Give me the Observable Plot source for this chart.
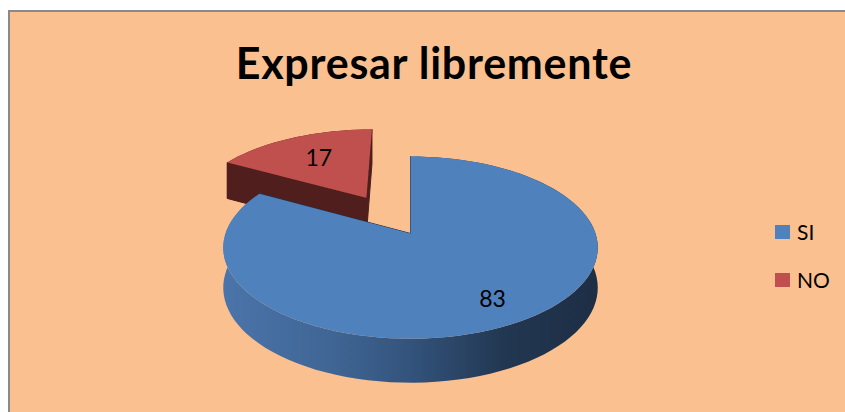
<!DOCTYPE html>
<html><head><meta charset="utf-8">
<script src="https://cdn.jsdelivr.net/npm/d3@7"></script>
<script src="https://cdn.jsdelivr.net/npm/@observablehq/plot@0.6"></script>
<style>
body{margin:0;background:#fff;}
#wrap{position:relative;width:845px;height:412px;overflow:hidden;background:#fff;font-family:Lato,"Open Sans",sans-serif;}
#panel{position:absolute;left:8px;top:10px;width:900px;height:500px;background:#FAC090;border-left:2px solid #8a8a8a;border-top:2px solid #8a8a8a;}
#title{position:absolute;left:0;width:868px;top:37px;text-align:center;font-weight:700;font-size:43px;line-height:1.2;color:#000;white-space:nowrap;letter-spacing:0.75px;}
#chart{position:absolute;left:0;top:0;}
.leg{position:absolute;left:775px;font-size:21px;line-height:1.2;color:#000;white-space:nowrap;}
.leg .sw{position:absolute;left:0;width:15px;height:14px;}
.leg .lab{position:absolute;left:22px;top:0;}
</style>
</head><body>
<div id="wrap">
  <div id="panel"></div>
  <div id="title">Expresar libremente</div>
  <div id="chart"></div>
  <div id="legend"></div>
</div>
<script>
// ---- data ----
const categories = ["SI", "NO"];
const values = [83, 17];
const palette = ["#4F81BD", "#C0504D"];
const darkPalette = ["#1F3049", "#4F1E1D"];
const explodedCategory = "NO";

// ---- geometry (3D perspective pie) ----
const G = {cx: 410, cy: 233, sx: 185, sy: 88.9, k: 0.155, depth: 39.4, k2: 0.104, explode: 0.5, labelR: 0.78, labelRExploded: 0.62, steps: 120};
function P(X, Y, z) {
  const w = 1 - G.k * Y;
  return {x: G.cx + G.sx * X / w, y: G.cy + G.sy * Y / w + z * G.depth / (1 - G.k2 * Y)};
}
const arcs = d3.pie().sort(null).startAngle(0).endAngle(2 * Math.PI)(values);

const polys = []; // {id, cat, part, x, y}
const labels = [];
arcs.forEach((a, i) => {
  const cat = categories[i];
  const a0 = a.startAngle, a1 = a.endAngle, mid = (a0 + a1) / 2;
  const e = cat === explodedCategory ? G.explode : 0;
  const ox = e * Math.sin(mid), oy = -e * Math.cos(mid);
  const outer = (t, z) => P(ox + Math.sin(t), oy - Math.cos(t), z);
  const apex = z => P(ox, oy, z);
  const n = Math.max(8, Math.ceil(G.steps * (a1 - a0) / (2 * Math.PI)));
  const arc = (z, from, to) => d3.range(n + 1).map(j => outer(from + (to - from) * j / n, z));
  const push = (part, pts) => pts.forEach(p => polys.push({id: cat + "-" + part, cat, part, x: p.x, y: p.y}));
  push("side", [...arc(0, a0, a1), ...arc(1, a1, a0)]);
  push("cut0", [apex(0), outer(a0, 0), outer(a0, 1), apex(1)]);
  push("cut1", [apex(0), outer(a1, 0), outer(a1, 1), apex(1)]);
  push("top", [apex(0), ...arc(0, a0, a1)]);
  const r = e > 0 ? G.labelRExploded : G.labelR;
  const lp = P(ox + r * Math.sin(mid), oy - r * Math.cos(mid), 0);
  labels.push({cat, value: values[i], x: lp.x, y: lp.y});
});

const order = [explodedCategory, ...categories.filter(c => c !== explodedCategory)];
const marks = [];
order.forEach(cat => {
  const i = categories.indexOf(cat);
  const sideFill = cat === "SI" ? "url(#blueSide)" : darkPalette[i];
  marks.push(Plot.line(polys.filter(d => d.cat === cat && d.part === "side"), {x: "x", y: "y", z: "id", curve: "linear-closed", fill: sideFill, stroke: "none"}));
  marks.push(Plot.line(polys.filter(d => d.cat === cat && (d.part === "cut0" || d.part === "cut1")), {x: "x", y: "y", z: "id", curve: "linear-closed", fill: darkPalette[i], stroke: darkPalette[i], strokeWidth: 1}));
  marks.push(Plot.line(polys.filter(d => d.cat === cat && d.part === "top"), {x: "x", y: "y", z: "id", curve: "linear-closed", fill: palette[i], stroke: "none"}));
});
marks.push(Plot.text(labels, {x: "x", y: "y", text: d => String(d.value), fontSize: 23, fill: "#000", fontFamily: "Lato, 'Open Sans', sans-serif"}));

const svg = Plot.plot({
  width: 845, height: 412,
  margin: 0,
  x: {domain: [0, 845], range: [0, 845], axis: null},
  y: {domain: [0, 412], range: [0, 412], axis: null},
  style: {background: "transparent", overflow: "visible"},
  marks
});
const defs = d3.select(svg).insert("defs", ":first-child");
const grad = defs.append("linearGradient").attr("id", "blueSide").attr("x1", 0).attr("x2", 1).attr("y1", 0).attr("y2", 0);
[[0, "#4B74AA"], [0.3, "#3F6594"], [0.5, "#33537C"], [0.75, "#223751"], [1, "#1D2E45"]]
  .forEach(([o, c]) => grad.append("stop").attr("offset", o).attr("stop-color", c));
document.getElementById("chart").appendChild(svg);

// legend
const legTops = [219, 267];
const leg = d3.select("#legend");
categories.forEach((c, i) => {
  const item = leg.append("div").attr("class", "leg").style("top", legTops[i] + "px");
  item.append("div").attr("class", "sw").style("top", "6px").style("background", palette[i]);
  item.append("div").attr("class", "lab").text(c);
});
</script>
</body></html>
